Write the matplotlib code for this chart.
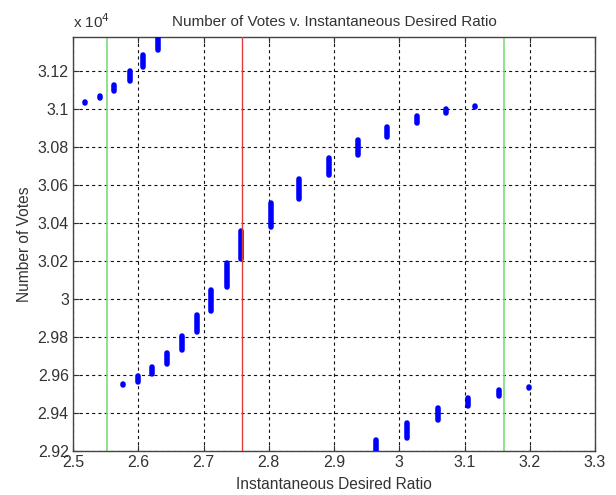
import matplotlib.pyplot as plt
from matplotlib.ticker import FuncFormatter, MultipleLocator

plt.rcParams['font.family'] = ['Liberation Sans', 'DejaVu Sans']

# vertical runs of vote counts per ratio value: x, low, high
upper_x = [2.518, 2.541, 2.563, 2.587, 2.608, 2.631]
upper_lo = [31028, 31056, 31091, 31144, 31221, 31309]
upper_hi = [31033, 31067, 31123, 31196, 31284, 31400]

mid_x = [2.576, 2.599, 2.621, 2.644, 2.667, 2.690, 2.712, 2.736, 2.758,
         2.803, 2.847, 2.892, 2.937, 2.981, 3.027, 3.072, 3.116]
mid_lo = [29548, 29565, 29603, 29656, 29733, 29825, 29934, 30060, 30209,
          30379, 30523, 30649, 30758, 30849, 30923, 30976, 31010]
mid_hi = [29553, 29593, 29642, 29716, 29804, 29916, 30046, 30190, 30355,
          30506, 30632, 30741, 30836, 30906, 30962, 31000, 31015]

low_x = [2.965, 3.012, 3.059, 3.105, 3.153, 3.199]
low_lo = [29150, 29270, 29365, 29439, 29491, 29529]
low_hi = [29257, 29348, 29425, 29481, 29519, 29534]

green_x = [2.552, 3.161]
red_x = 2.759

fig = plt.figure(figsize=(6.16, 4.95), dpi=100)
ax = fig.add_axes([0.1185, 0.0889, 0.8475, 0.8364])

ax.grid(True, color='#111111', linestyle=(0, (2.8, 2.8)), linewidth=0.8)
ax.set_axisbelow(True)

for xs, los, his in [(upper_x, upper_lo, upper_hi),
                     (mid_x, mid_lo, mid_hi),
                     (low_x, low_lo, low_hi)]:
    for x, lo, hi in zip(xs, los, his):
        ax.plot([x, x], [lo, hi], color='#0000ff', linewidth=4.0,
                solid_capstyle='round', zorder=3)

for gx in green_x:
    ax.axvline(gx, color='#7ddc7d', linewidth=1.2, zorder=2)
ax.axvline(red_x, color='#e03c3c', linewidth=1.0, zorder=4)

ax.set_xlim(2.5, 3.3)
ax.set_ylim(29200, 31377)
ax.xaxis.set_major_locator(MultipleLocator(0.1))
ax.yaxis.set_major_locator(MultipleLocator(200))
ax.xaxis.set_major_formatter(FuncFormatter(lambda v, p: '%g' % round(v, 2)))
ax.yaxis.set_major_formatter(FuncFormatter(lambda v, p: '%g' % round(v / 1e4, 3)))
ax.tick_params(direction='in', labelsize=11.5, colors='#333333', length=4,
               top=True, right=True, pad=3)
for s in ax.spines.values():
    s.set_color('#444444')
    s.set_linewidth(1.0)

ax.set_title('Number of Votes v. Instantaneous Desired Ratio', fontsize=11,
             color='#333333', pad=8)
ax.set_xlabel('Instantaneous Desired Ratio', fontsize=11.2, color='#333333',
              labelpad=5)
ax.set_ylabel('Number of Votes', fontsize=11.2, color='#333333', labelpad=4)
ax.text(0.0, 1.015, 'x 10$^4$', transform=ax.transAxes, fontsize=11,
        color='#333333', ha='left', va='bottom')

fig.savefig('out.png', dpi=100)
